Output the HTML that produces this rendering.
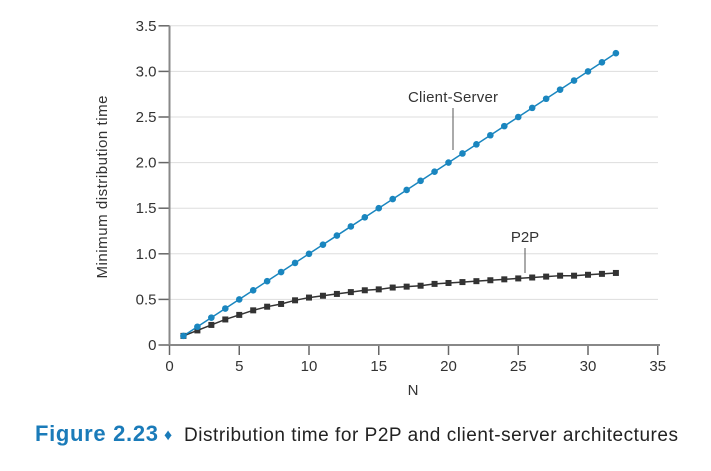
<!DOCTYPE html>
<html><head><meta charset="utf-8"><style>
body{margin:0;background:#fff;width:711px;height:471px;overflow:hidden;font-family:"Liberation Sans",sans-serif}
</style></head><body>
<svg width="711" height="471" style="position:absolute;left:0;top:0">
<g id="grid"></g><g id="axes"></g><g id="series"></g>
<g>
<text x="453" y="102" font-size="15" fill="#333" text-anchor="middle" textLength="90">Client-Server</text>
<line x1="453" y1="108" x2="453" y2="150" stroke="#555" stroke-width="1"/>
</g>
<g>
<text x="525" y="242" font-size="15" fill="#333" text-anchor="middle">P2P</text>
<line x1="525" y1="248" x2="525" y2="273" stroke="#555" stroke-width="1"/>
</g>
<text x="413" y="395" font-size="15" fill="#333" text-anchor="middle">N</text>
<text transform="translate(107,187) rotate(-90)" font-size="15" fill="#333" text-anchor="middle" textLength="183">Minimum distribution time</text>
<g>
<text x="35" y="441" font-size="22" font-weight="bold" fill="#1a7bb9" textLength="123">Figure 2.23</text>
<text x="164" y="440" font-size="16" fill="#1a7bb9">♦</text>
<text x="184" y="441" font-size="19" fill="#222" textLength="494">Distribution time for P2P and client-server architectures</text>
</g>
</svg>
<script>
const nValues=[1,2,3,4,5,6,7,8,9,10,11,12,13,14,15,16,17,18,19,20,21,22,23,24,25,26,27,28,29,30,31,32];
const clientServer=[0.1,0.2,0.3,0.4,0.5,0.6,0.7,0.8,0.9,1.0,1.1,1.2,1.3,1.4,1.5,1.6,1.7,1.8,1.9,2.0,2.1,2.2,2.3,2.4,2.5,2.6,2.7,2.8,2.9,3.0,3.1,3.2];
const p2p=[0.10,0.16,0.22,0.28,0.33,0.38,0.42,0.45,0.49,0.52,0.54,0.56,0.58,0.60,0.61,0.63,0.64,0.65,0.67,0.68,0.69,0.70,0.71,0.72,0.73,0.74,0.75,0.76,0.76,0.77,0.78,0.79];
const xTicks=[0,5,10,15,20,25,30,35];
const yTicks=[0,0.5,1.0,1.5,2.0,2.5,3.0,3.5];
const yTickLabels=["0","0.5","1.0","1.5","2.0","2.5","3.0","3.5"];
const NS="http://www.w3.org/2000/svg";
const X0=169.5,XW=13.95,Y0=345,YH=91.2;
const xs=v=>X0+v*XW, ys=v=>Y0-v*YH;
function mk(tag,at,parent){const e=document.createElementNS(NS,tag);for(const k in at)e.setAttribute(k,at[k]);parent.appendChild(e);return e;}
const grid=document.getElementById('grid'),axes=document.getElementById('axes'),series=document.getElementById('series');
yTicks.forEach((t,i)=>{
 if(t>0){const g=mk('line',{x1:X0,x2:658,y1:ys(t),y2:ys(t),stroke:'#ddd','stroke-width':1},grid);
 
 }
 const tk=mk('line',{x1:X0-11,x2:X0,y1:ys(t),y2:ys(t),stroke:'#666','stroke-width':1.5},axes);
 
 
 const tx=mk('text',{x:X0-13,y:ys(t)+5,'font-size':15,fill:'#333','text-anchor':'end'},axes);
 tx.textContent=yTickLabels[i];
 
 
});
xTicks.forEach(t=>{
 const tk=mk('line',{x1:xs(t),x2:xs(t),y1:Y0,y2:Y0+10,stroke:'#666','stroke-width':1.5},axes);
 
 
 const tx=mk('text',{x:xs(t),y:Y0+26,'font-size':15,fill:'#333','text-anchor':'middle'},axes);
 tx.textContent=t;
 
 
});
const ya=mk('line',{x1:X0,x2:X0,y1:ys(3.5),y2:Y0,stroke:'#888','stroke-width':2},axes);


const xa=mk('line',{x1:X0,x2:660,y1:Y0,y2:Y0,stroke:'#888','stroke-width':2},axes);


const pp=mk('polyline',{points:nValues.map((n,i)=>xs(n)+','+ys(p2p[i])).join(' '),fill:'none',stroke:'#333','stroke-width':1.5},series);


nValues.forEach((n,i)=>{
 const r=mk('rect',{x:xs(n)-3,y:ys(p2p[i])-3,width:6,height:6,fill:'#333'},series);
 
 
});
const cl=mk('polyline',{points:nValues.map((n,i)=>xs(n)+','+ys(clientServer[i])).join(' '),fill:'none',stroke:'#1a86bf','stroke-width':1.5},series);


nValues.forEach((n,i)=>{
 const c=mk('circle',{cx:xs(n),cy:ys(clientServer[i]),r:3.3,fill:'#1a86bf'},series);
 
 
});
</script>
</body></html>
